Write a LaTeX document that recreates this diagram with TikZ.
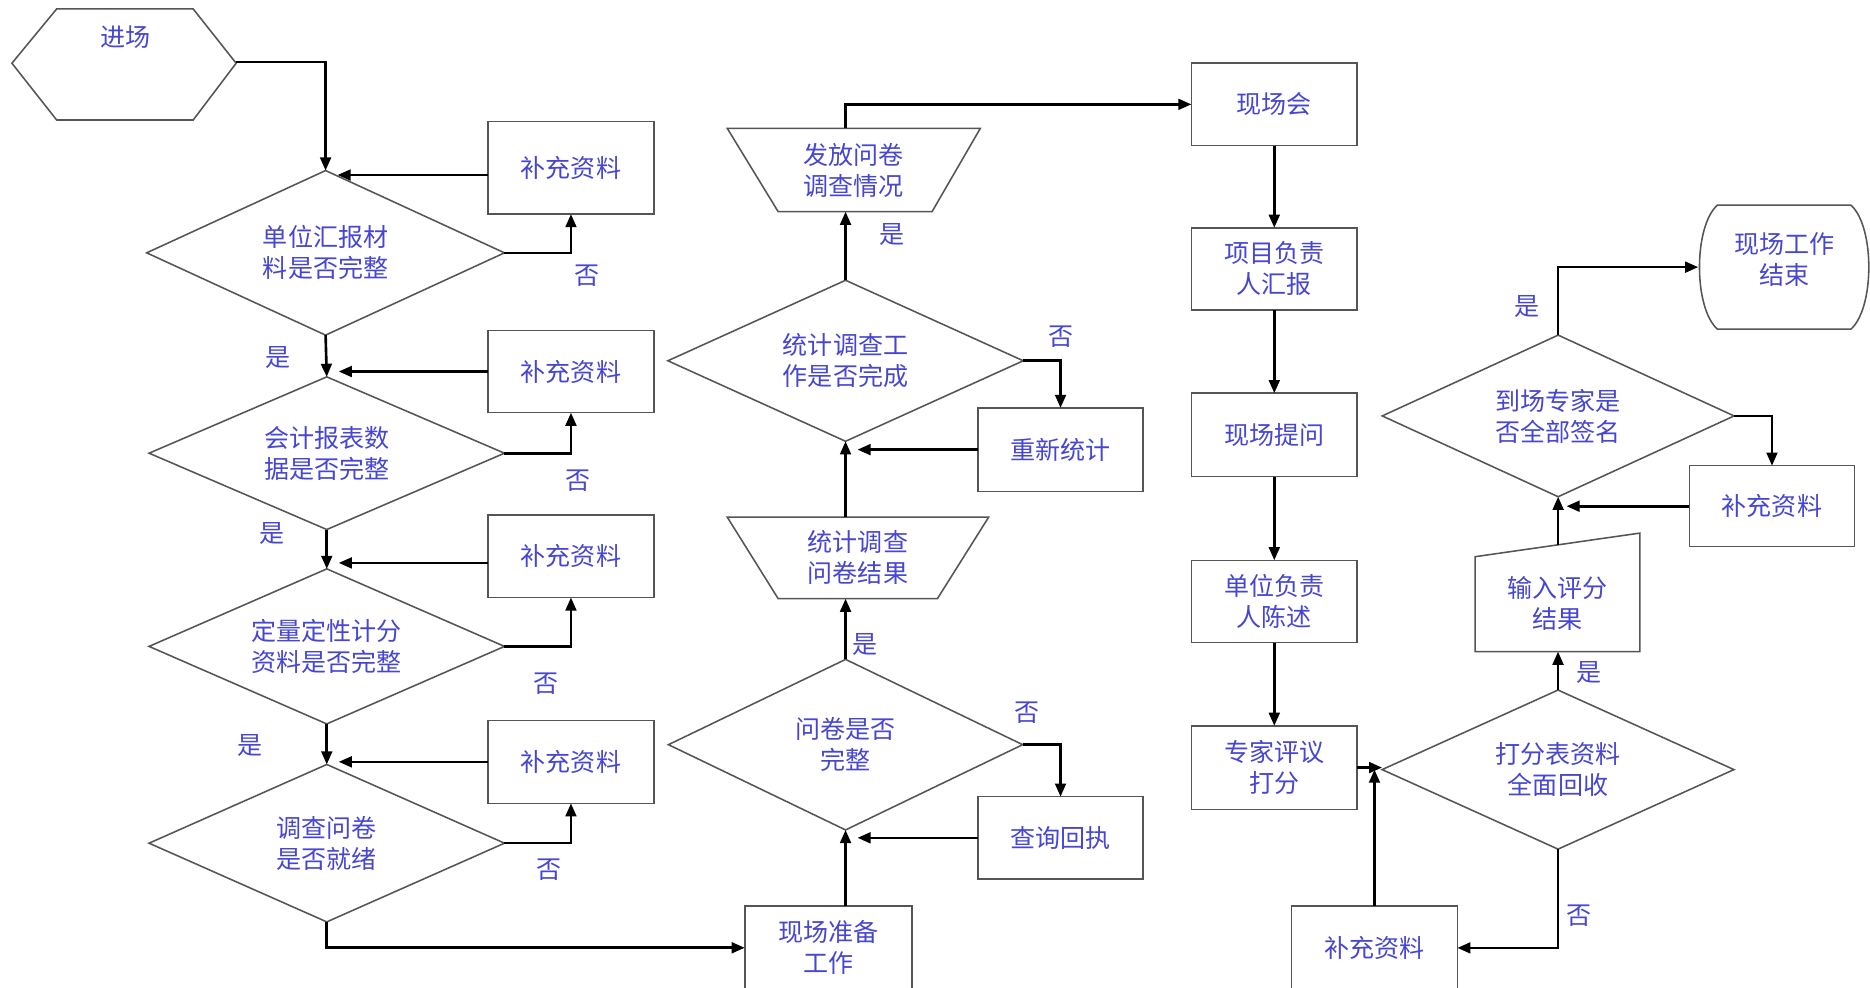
\documentclass[tikz,border=0pt]{standalone}
\usepackage{fontspec}
\newfontfamily\cjk{Noto Sans CJK SC}
\usetikzlibrary{shapes.geometric,arrows.meta,calc}
\definecolor{txtblue}{RGB}{70,70,210}
\definecolor{edgegray}{RGB}{85,85,85}
\begin{document}
\begin{tikzpicture}[x=1pt,y=-1pt,
  every node/.style={font=\cjk\fontsize{21}{26}\selectfont, text=txtblue, align=center, inner sep=0pt, outer sep=0pt},
  shp/.style={draw=edgegray, line width=1.3pt},
  box/.style={shp, fill=white, rectangle, minimum width=139pt, minimum height=69pt},
  dia/.style={shp, fill=white, diamond, shape aspect=2.2, minimum width=297pt},
  ghost/.style={rectangle, draw=none},
  conn/.style={draw=black, line width=2.2pt, -{Triangle[length=11pt,width=9pt]}}
]
\useasboundingbox (0,0) rectangle (1568,828);
\clip (0,0) rectangle (1568,828);

% ---------- left column ----------
\draw[shp] (10,53) -- (47.5,7.5) -- (162,7.5) -- (198,53) -- (162,100.6) -- (47.5,100.6) -- cycle;
\node (start) at (105,31) {进场};
\coordinate (startE) at (198,52);

\node[dia, minimum width=300pt, minimum height=138pt] (d1) at (273,212) {单位汇报材\\料是否完整};
\node[dia, minimum width=298pt, minimum height=128pt] (d2) at (274,380) {会计报表数\\据是否完整};
\node[dia, minimum width=298pt, minimum height=130pt] (d3) at (274,542) {定量定性计分\\资料是否完整};
\node[dia, minimum width=298pt, minimum height=132pt] (d4) at (274,707) {调查问卷\\是否就绪};

\node[box, minimum width=139.5pt, minimum height=77.5pt] (b1) at (478.75,140.75) {补充资料};
\node[box, minimum width=139.5pt] (b2) at (478.75,311.5) {补充资料};
\node[box, minimum width=139.5pt] (b3) at (478.75,466.5) {补充资料};
\node[box, minimum width=139.5pt, minimum height=69.6pt] (b4) at (478.75,638.8) {补充资料};

\node[box, minimum width=140.3pt, minimum height=70pt] (prep) at (694.6,794.7) {现场准备\\工作};

% ---------- middle column ----------
\node[dia, minimum width=297pt, minimum height=143pt] (d5) at (709,624.4) {问卷是否\\完整};
\node[dia, minimum width=298pt, minimum height=135pt] (d6) at (709,302.5) {统计调查工\\作是否完成};
\node[box, minimum width=138.5pt] (q) at (889.25,702.5) {查询回执};
\node[box, minimum width=138.5pt, minimum height=70pt] (r) at (889.25,377) {重新统计};

\node[ghost, minimum width=219.2pt, minimum height=68.4pt] (t2) at (719.4,467.8) {统计调查\\问卷结果};
\draw[shp] (t2.north west) -- (t2.north east) -- ($(t2.south east)+(-43,0)$) -- ($(t2.south west)+(42.7,0)$) -- cycle;
\node[ghost, minimum width=212.2pt, minimum height=69.9pt] (t1) at (715.9,142.55) {发放问卷\\调查情况};
\draw[shp] (t1.north west) -- (t1.north east) -- ($(t1.south east)+(-40.5,0)$) -- ($(t1.south west)+(42.7,0)$) -- cycle;

% ---------- right-middle column ----------
\node[box] (m1) at (1068.5,87.5) {现场会};
\node[box] (m2) at (1068.5,225.5) {项目负责\\人汇报};
\node[box, minimum height=70pt] (m3) at (1068.5,364.7) {现场提问};
\node[box] (m4) at (1068.5,504.3) {单位负责\\人陈述};
\node[box, minimum height=70pt] (m5) at (1068.5,643.6) {专家评议\\打分};

% ---------- right column ----------
\node[dia, minimum width=295pt, minimum height=133.4pt] (d7) at (1306.4,645.3) {打分表资料\\全面回收};
\node[box, minimum height=70pt] (b6) at (1152.5,794.8) {补充资料};
\node[ghost, minimum width=138.2pt, minimum height=99.4pt] (inp) at (1305.9,496.7) {};
\draw[shp] (inp.south west) -- (inp.south east) -- (inp.north east) -- ($(inp.north west)+(0,19.8)$) -- cycle;
\node (inptxt) at (1306,506) {输入评分\\结果};
\node[dia, minimum width=295pt, minimum height=135.5pt] (d8) at (1306.5,348.75) {到场专家是\\否全部签名};
\node[box, minimum width=138.4pt, minimum height=67.9pt] (b7) at (1485.8,424.45) {补充资料};
\node[ghost, minimum width=144pt, minimum height=104pt] (end) at (1496,224) {};
\draw[shp] (1440,172) -- (1552,172) .. controls (1572,190) and (1572,258) .. (1552,276) -- (1440,276) .. controls (1420,258) and (1420,190) .. (1440,172) -- cycle;
\node (endtxt) at (1496,218) {现场工作\\结束};

% ---------- connectors ----------
\draw[conn] (startE) -| (d1.north);
\draw[conn] ($(b1.west)+(0,6)$) coordinate (a1) -- (a1 -| {$(d1.north)+(10,0)$});
\draw[conn] (b2.west) -- (b2.west -| {$(d2.north)+(10,0)$});
\draw[conn] ($(b3.west)+(0,5.5)$) coordinate (a3) -- (a3 -| {$(d3.north)+(10,0)$});
\draw[conn] (b4.west) -- (b4.west -| {$(d4.north)+(10,0)$});
\draw[conn] (d1.east) -| (b1.south);
\draw[conn] (d2.east) -| (b2.south);
\draw[conn] (d3.east) -| (b3.south);
\draw[conn] (d4.east) -| (b4.south);
\draw[conn] (d1.south) -- (d2.north);
\draw[conn] (d2.south) -- (d3.north);
\draw[conn] (d3.south) -- (d4.north);
\draw[conn] (d4.south) |- (prep.west);

\draw[conn] (d5.south |- prep.north) -- (d5.south);
\draw[conn] (q.west) -- (q.west -| {$(d5.south)+(10,0)$});
\draw[conn] (d5.east) -| (q.north);
\draw[conn] (d5.north) -- (d5.north |- t2.south);
\draw[conn] (d6.south |- t2.north) -- (d6.south);
\draw[conn] (r.west) -- (r.west -| {$(d6.south)+(10,0)$});
\draw[conn] (d6.east) -| (r.north);
\draw[conn] (d6.north) -- (d6.north |- t1.south);
\draw[conn] (d6.north |- t1.north) |- (m1.west);

\draw[conn] (m1.south) -- (m2.north);
\draw[conn] (m2.south) -- (m3.north);
\draw[conn] (m3.south) -- (m4.north);
\draw[conn] (m4.south) -- (m5.north);
\draw[conn] (m5.east) -- (m5.east -| d7.west);
\draw[conn] (d7.south) |- (b6.east);
\draw[conn] (b6.north) -- (b6.north |- d7.west);
\draw[conn] (d7.north) -- (d7.north |- inp.south);
\draw[conn] (d8.south |- {$(inp.north)+(0,9.9)$}) -- (d8.south);
\draw[conn] (d8.east) -| (b7.north);
\draw[conn] (b7.west) -- (b7.west -| {$(d8.south)+(7,0)$});
\draw[conn] (d8.north) |- (end.west);

% ---------- labels ----------
\node (l1) at (233,300) {是};
\node (l2) at (228,447) {是};
\node (l3) at (210,625) {是};
\node (l4) at (492,231) {否};
\node (l5) at (485,403) {否};
\node (l6) at (458,573) {否};
\node (l7) at (460,729) {否};
\node (l8) at (748,197) {是};
\node (l9) at (890,282) {否};
\node (l10) at (725,540) {是};
\node (l11) at (861,598) {否};
\node (l12) at (1280,257) {是};
\node (l13) at (1332,564) {是};
\node (l14) at (1324,768) {否};
\end{tikzpicture}
\end{document}
